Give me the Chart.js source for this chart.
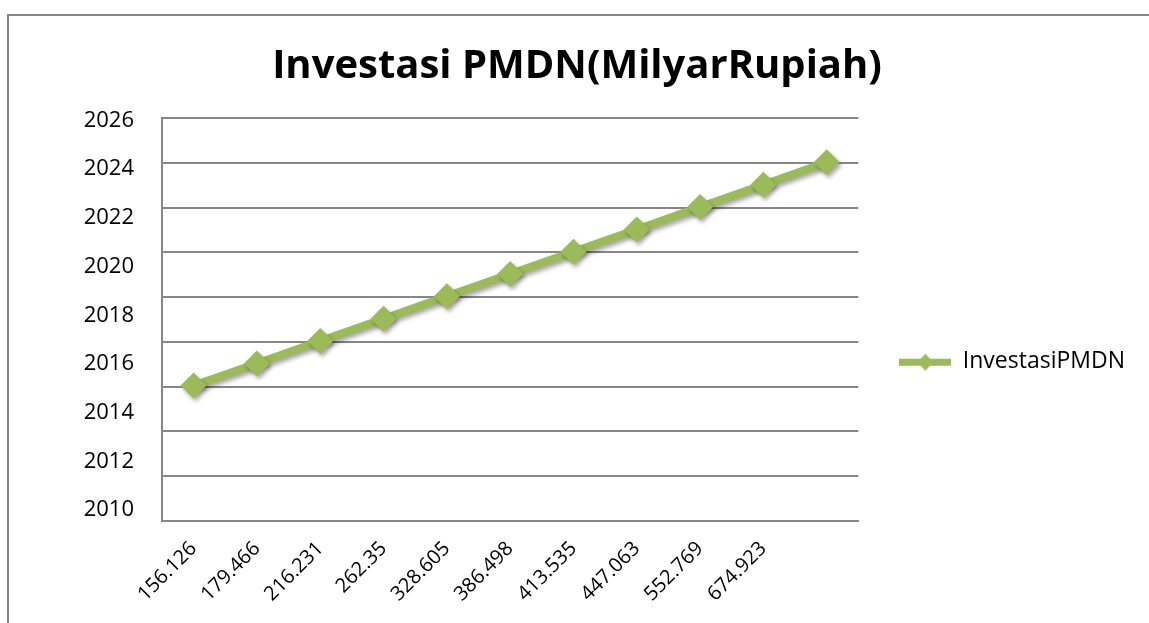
<!DOCTYPE html>
<html>
<head>
<meta charset="utf-8">
<script src="https://cdn.jsdelivr.net/npm/chart.js@4"></script>
<style>
  body { margin:0; background:#fff; }
  #wrap { position:relative; width:1149px; height:623px; overflow:hidden; }
  #frame { position:absolute; left:7px; top:14px; width:1200px; height:700px;
           border-top:2px solid #878787; border-left:2px solid #878787; pointer-events:none; }
  canvas { position:absolute; left:0; top:0; }
</style>
</head>
<body>
<div id="wrap">
  <canvas id="pmdnChart" width="1149" height="623"></canvas>
  <div id="frame"></div>
</div>
<script>
const judul = 'Investasi PMDN(MilyarRupiah)';
const namaSeri = 'InvestasiPMDN';
const kategori = ['156.126','179.466','216.231','262.35','328.605','386.498','413.535','447.063','552.769','674.923',''];
const nilaiPMDN = [2015.11, 2016.02, 2016.94, 2017.86, 2018.78, 2019.69, 2020.61, 2021.52, 2022.44, 2023.36, 2024.28];
const tickTahun = [2010, 2012, 2014, 2016, 2018, 2020, 2022, 2024, 2026];

const hijau = '#9BBB59';
const abu = '#878787';

Chart.defaults.font.family = '"Open Sans"';
Chart.defaults.color = '#000';

// penanda legenda: garis dengan belah ketupat
const ikon = document.createElement('canvas');
ikon.width = 52; ikon.height = 18;
const ic = ikon.getContext('2d');
ic.fillStyle = hijau;
ic.fillRect(0, 6, 52, 7);
ic.beginPath();
ic.moveTo(26, 1); ic.lineTo(34, 9.5); ic.lineTo(26, 18); ic.lineTo(18, 9.5);
ic.closePath(); ic.fill();

const bayangan = {
  id: 'bayangan',
  beforeDatasetsDraw(chart) {
    const c = chart.ctx;
    c.save();
    c.shadowColor = 'rgba(0,0,0,0.35)';
    c.shadowBlur = 4;
    c.shadowOffsetX = 2;
    c.shadowOffsetY = 3;
  },
  afterDatasetsDraw(chart) { chart.ctx.restore(); }
};

const ctx = document.getElementById('pmdnChart').getContext('2d');
const chart = new Chart(ctx, {
  type: 'line',
  data: {
    labels: kategori,
    datasets: [{
      label: namaSeri,
      data: nilaiPMDN,
      borderColor: hijau,
      backgroundColor: hijau,
      borderWidth: 8,
      pointStyle: 'rectRot',
      pointRadius: 13,
      pointBorderWidth: 0,
      pointHoverRadius: 13,
      tension: 0,
      yAxisID: 'y'
    }]
  },
  options: {
    responsive: false,
    animation: false,
    layout: { padding: { left: 19, right: 14, top: 0, bottom: 0 } },
    scales: {
      x: {
        offset: true,
        grid: { display: false },
        border: { display: true, color: abu, width: 2 },
        ticks: { minRotation: 45, maxRotation: 45, padding: 8, font: { size: 20 }, autoSkip: false },
        afterFit: s => { s.height = 102; }
      },
      y: {
        position: 'left',
        min: 2009.55,
        max: 2026.1,
        grid: { display: false },
        border: { display: true, color: abu, width: 2 },
        ticks: { padding: 20, font: { size: 22 }, callback: v => String(v) },
        afterBuildTicks: s => { s.ticks = tickTahun.map(v => ({ value: v })); },
        afterFit: s => { s.width = 143; }
      },
      yGrid: {
        position: 'left',
        min: 0,
        max: 9,
        ticks: { display: false, stepSize: 1 },
        grid: { color: abu, lineWidth: 2, drawTicks: false },
        border: { display: false },
        afterFit: s => { s.width = 0; }
      }
    },
    plugins: {
      title: {
        display: true,
        text: judul,
        font: { size: 40, weight: 'bold' },
        padding: { top: 43, bottom: 27 }
      },
      legend: {
        position: 'right',
        maxWidth: 400,
        title: { display: true, text: ' ', padding: 43 },
        labels: {
          usePointStyle: true,
          pointStyle: ikon,
          pointStyleWidth: 52,
          font: { size: 23 },
          padding: 41
        }
      },
      tooltip: { enabled: false }
    }
  },
  plugins: [bayangan]
});
</script>
</body>
</html>
